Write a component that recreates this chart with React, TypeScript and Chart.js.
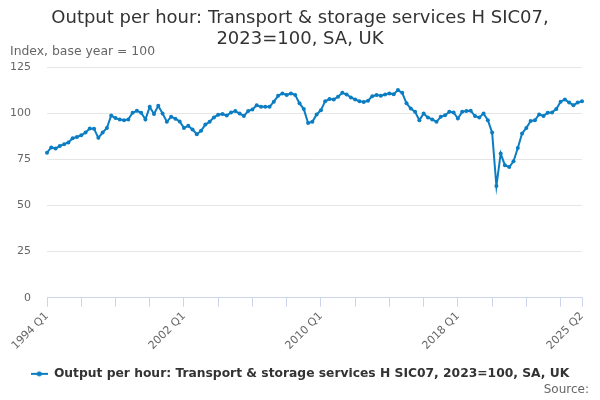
import React, { useEffect, useRef } from "react";
import { Chart, registerables } from "chart.js";

Chart.register(...registerables);

const titleLines = [
  "Output per hour: Transport & storage services H SIC07,",
  "2023=100, SA, UK",
];
const subtitleText = "Index, base year = 100";
const sourceText = "Source:";
const seriesName =
  "Output per hour: Transport & storage services H SIC07, 2023=100, SA, UK";

const firstYear = 1994;
const lastYear = 2025;
const lastQuarter = 2;
const xTickLabels = ["1994 Q1", "2002 Q1", "2010 Q1", "2018 Q1", "2025 Q2"];
const yTicks = [0, 25, 50, 75, 100, 125];

const outputPerHour = [
  78.6, 81.4, 80.8, 82.2, 83.2, 84.1, 86.4, 87.1, 88.0, 89.5,
  91.7, 91.5, 86.6, 89.5, 92.0, 98.7, 97.3, 96.6, 96.2, 96.6,
  100.2, 101.3, 100.2, 96.6, 103.4, 99.5, 104.0, 99.8, 95.3, 98.0,
  97.0, 95.5, 92.0, 93.1, 91.1, 88.6, 90.4, 93.8, 95.3, 97.7,
  99.1, 99.5, 98.7, 100.4, 101.1, 99.8, 98.5, 101.1, 102.0, 104.3,
  103.4, 103.4, 103.4, 106.2, 109.4, 110.7, 109.8, 110.7, 109.8, 105.3,
  102.2, 94.7, 95.3, 99.3, 101.6, 106.5, 107.6, 107.4, 108.9, 111.0,
  110.1, 108.5, 107.4, 106.5, 106.0, 106.7, 109.2, 109.8, 109.4, 110.1,
  110.7, 110.3, 112.5, 111.0, 105.3, 102.5, 100.7, 96.2, 99.8, 97.7,
  96.6, 95.3, 98.0, 98.9, 100.7, 100.4, 97.1, 100.7, 101.1, 101.3,
  98.4, 97.7, 99.8, 96.2, 89.5, 60.5, 78.1, 71.7, 70.8, 73.9,
  81.1, 89.0, 92.0, 95.7, 96.2, 99.3, 98.5, 100.2, 100.4, 102.2,
  106.2, 107.4, 105.7, 104.3, 105.7, 106.5,
];

const quarterLabels: string[] = [];
for (let y = firstYear; y <= lastYear; y++) {
  for (let q = 1; q <= 4; q++) {
    if (y === lastYear && q > lastQuarter) break;
    quarterLabels.push(`${y} Q${q}`);
  }
}

const LINE_COLOR = "#0b7dc2";
const FONT = "'DejaVu Sans', sans-serif";

function makeLegendMarker(): HTMLCanvasElement {
  const c = document.createElement("canvas");
  c.width = 17;
  c.height = 8;
  const g = c.getContext("2d")!;
  g.strokeStyle = LINE_COLOR;
  g.lineWidth = 2;
  g.beginPath();
  g.moveTo(0, 4);
  g.lineTo(17, 4);
  g.stroke();
  g.fillStyle = LINE_COLOR;
  g.beginPath();
  g.arc(8.5, 4, 2.5, 0, Math.PI * 2);
  g.fill();
  return c;
}

const textPlugin = {
  id: "headerText",
  afterDraw(chart: any) {
    const ctx = chart.ctx;
    ctx.save();
    ctx.fillStyle = "#333333";
    ctx.font = `18px ${FONT}`;
    ctx.textAlign = "center";
    ctx.textBaseline = "middle";
    ctx.fillText(titleLines[0], 300, 18);
    ctx.fillText(titleLines[1], 300, 39);
    ctx.fillStyle = "#666666";
    ctx.font = `12.4px ${FONT}`;
    ctx.textAlign = "left";
    ctx.fillText(subtitleText, 10, 52);
    ctx.font = `12px ${FONT}`;
    ctx.textAlign = "right";
    ctx.fillText(sourceText, 589, 390);
    ctx.restore();
  },
};

export default function App() {
  const ref = useRef<HTMLCanvasElement>(null);

  useEffect(() => {
    if (!ref.current) return;
    const marker = makeLegendMarker();
    const chart = new Chart(ref.current, {
      type: "line",
      data: {
        labels: quarterLabels,
        datasets: [
          {
            label: seriesName,
            data: outputPerHour,
            borderColor: LINE_COLOR,
            backgroundColor: LINE_COLOR,
            borderWidth: 2,
            pointRadius: 2,
            pointHoverRadius: 2,
            pointBorderWidth: 0,
            tension: 0,
            yAxisID: "y",
          },
        ],
      },
      options: {
        responsive: false,
        animation: false,
        devicePixelRatio: 1,
        layout: { padding: { top: 67, right: 0, bottom: 10, left: 0 } },
        plugins: {
          title: { display: false },
          tooltip: { enabled: false },
          legend: {
            display: true,
            position: "bottom",
            labels: {
              usePointStyle: true,
              pointStyleWidth: 17,
              padding: 10,
              color: "#333333",
              font: { family: FONT, size: 12.3, weight: "bold" },
              generateLabels: () => [
                {
                  text: seriesName,
                  pointStyle: marker,
                  fillStyle: LINE_COLOR,
                  strokeStyle: LINE_COLOR,
                  lineWidth: 0,
                  hidden: false,
                  datasetIndex: 0,
                  fontColor: "#333333",
                } as any,
              ],
            },
          },
        },
        scales: {
          x: {
            type: "category",
            offset: false,
            afterFit: (scale: any) => {
              scale.height = 60;
            },
            grid: {
              display: true,
              drawOnChartArea: false,
              drawTicks: true,
              tickLength: 9,
              tickWidth: 1,
              tickColor: (c: any) =>
                c.index % 8 === 0 || c.index === quarterLabels.length - 1
                  ? "#ccd6eb"
                  : "rgba(0,0,0,0)",
            },
            border: { display: true, color: "#ccd6eb", width: 1 },
            ticks: {
              autoSkip: false,
              minRotation: 45,
              maxRotation: 45,
              padding: 3,
              color: "#666666",
              font: { family: FONT, size: 11 },
              callback: function (this: any, value: any) {
                const lab = this.getLabelForValue(value);
                return xTickLabels.includes(lab) ? lab : "";
              },
            },
          },
          y: {
            position: "left",
            min: yTicks[0],
            max: yTicks[yTicks.length - 1],
            afterFit: (scale: any) => {
              scale.width = 47;
            },
            afterBuildTicks: (scale: any) => {
              scale.ticks = yTicks.map((v) => ({ value: v }));
            },
            grid: {
              color: "#e6e6e6",
              drawTicks: false,
            },
            border: { display: false },
            ticks: {
              padding: 16,
              color: "#666666",
              font: { family: FONT, size: 11 },
            },
          },
          spacer: {
            type: "linear",
            position: "right",
            display: true,
            min: 0,
            max: 1,
            afterFit: (scale: any) => {
              scale.width = 18;
            },
            grid: { display: false, drawOnChartArea: false, drawTicks: false },
            border: { display: false },
            ticks: { display: false },
          },
        },
      },
      plugins: [textPlugin],
    });
    return () => chart.destroy();
  }, []);

  return (
    <div style={{ position: "fixed", left: 0, top: 0, width: 600, height: 400, background: "#fff" }}>
      <canvas ref={ref} width={600} height={400} />
    </div>
  );
}
